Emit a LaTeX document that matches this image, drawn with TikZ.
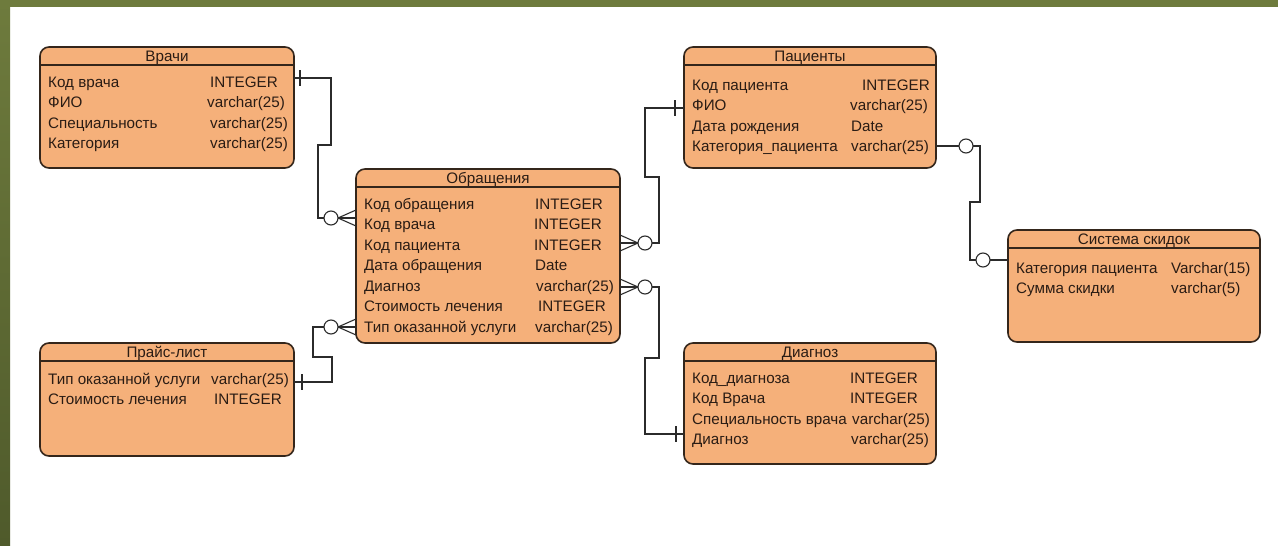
\documentclass[tikz,border=0pt]{standalone}
\usepackage{fontspec}
\setmainfont{Liberation Sans}
\usepackage{xcolor}

\definecolor{entfill}{HTML}{F5B07A}
\definecolor{entline}{HTML}{34261B}
\definecolor{enttext}{HTML}{2A1C14}
\definecolor{linkcol}{HTML}{2B2B2B}
\definecolor{olivetop}{HTML}{6E7B3D}
\definecolor{olivebot}{HTML}{4F5A2B}

\tikzset{
    tbl/.style={draw=entline, fill=entfill, line width=1.6pt, rounded corners=9pt,
        outer sep=0pt, inner sep=0pt, anchor=north west},
    hdr/.style={text=enttext, font=\fontsize{15.2}{17}\selectfont, inner sep=0pt,
        text height=10.5pt, text depth=0pt},
    fld/.style={hdr, anchor=west},
    sepline/.style={draw=entline, line width=1.3pt},
    conn/.style={draw=linkcol, line width=1.1pt},
    manyzero/.pic={
        \draw[conn] (-18,0) -- (0,-8) (-18,0) -- (0,8);
        \draw[conn, fill=white] (-25,0) circle[radius=7pt];
    },
    onebar/.pic={\draw[conn, line width=2pt] (0,-8) -- (0,8);},
    ringmark/.pic={\draw[conn, fill=white] (0,0) circle[radius=7pt];},
}

\begin{document}
\begin{tikzpicture}[x=1pt, y=-1pt]

    % frame
    \useasboundingbox (0,0) rectangle (1278,546);
    \fill[white] (0,0) rectangle (1278,546);
    \fill[olivetop] (0,0) rectangle (1278,7);
    \shade[top color=olivetop, bottom color=olivebot] (0,0) rectangle (10,546);

    % Врачи
    \node[tbl, minimum width=254pt, minimum height=121pt] (vrachi) at (40,47) {};
    \node[hdr] (vrachiT) at (167,56) {Врачи};
    \draw[sepline] (vrachi.west |- 0,65) -- (vrachi.east |- 0,65);
    \node[fld] (vr1) at (48,82) {Код врача};
    \node[fld] (vr1t) at (210,82) {INTEGER};
    \node[fld] (vr2) at (48,102) {ФИО};
    \node[fld] (vr2t) at (207,102) {varchar(25)};
    \node[fld] (vr3) at (48,123) {Специальность};
    \node[fld] (vr3t) at (210,123) {varchar(25)};
    \node[fld] (vr4) at (48,143) {Категория};
    \node[fld] (vr4t) at (210,143) {varchar(25)};

    % Обращения
    \node[tbl, minimum width=264pt, minimum height=174pt] (obr) at (356,169) {};
    \node[hdr] (obrT) at (488,178) {Обращения};
    \draw[sepline] (obr.west |- 0,187) -- (obr.east |- 0,187);
    \node[fld] (ob1) at (364,204) {Код обращения};
    \node[fld] (ob1t) at (535,204) {INTEGER};
    \node[fld] (ob2) at (364,224) {Код врача};
    \node[fld] (ob2t) at (534,224) {INTEGER};
    \node[fld] (ob3) at (364,245) {Код пациента};
    \node[fld] (ob3t) at (534,245) {INTEGER};
    \node[fld] (ob4) at (364,265) {Дата обращения};
    \node[fld] (ob4t) at (535,265) {Date};
    \node[fld] (ob5) at (364,286) {Диагноз};
    \node[fld] (ob5t) at (536,286) {varchar(25)};
    \node[fld] (ob6) at (364,306) {Стоимость лечения};
    \node[fld] (ob6t) at (538,306) {INTEGER};
    \node[fld] (ob7) at (364,327) {Тип оказанной услуги};
    \node[fld] (ob7t) at (535,327) {varchar(25)};

    % Пациенты
    \node[tbl, minimum width=252pt, minimum height=121pt] (pac) at (684,47) {};
    \node[hdr] (pacT) at (810,56) {Пациенты};
    \draw[sepline] (pac.west |- 0,65) -- (pac.east |- 0,65);
    \node[fld] (pa1) at (692,85) {Код пациента};
    \node[fld] (pa1t) at (862,85) {INTEGER};
    \node[fld] (pa2) at (692,105) {ФИО};
    \node[fld] (pa2t) at (850,105) {varchar(25)};
    \node[fld] (pa3) at (692,126) {Дата рождения};
    \node[fld] (pa3t) at (851,126) {Date};
    \node[fld] (pa4) at (692,146) {Категория\_пациента};
    \node[fld] (pa4t) at (851,146) {varchar(25)};

    % Система скидок
    \node[tbl, minimum width=252pt, minimum height=112pt] (sys) at (1008,230) {};
    \node[hdr] (sysT) at (1134,239) {Система скидок};
    \draw[sepline] (sys.west |- 0,248) -- (sys.east |- 0,248);
    \node[fld] (sy1) at (1016,268) {Категория пациента};
    \node[fld] (sy1t) at (1171,268) {Varchar(15)};
    \node[fld] (sy2) at (1016,288) {Сумма скидки};
    \node[fld] (sy2t) at (1171,288) {varchar(5)};

    % Прайс-лист
    \node[tbl, minimum width=254pt, minimum height=113pt] (price) at (40,343) {};
    \node[hdr] (priceT) at (167,352) {Прайс-лист};
    \draw[sepline] (price.west |- 0,361) -- (price.east |- 0,361);
    \node[fld] (pr1) at (48,379) {Тип оказанной услуги};
    \node[fld] (pr1t) at (211,379) {varchar(25)};
    \node[fld] (pr2) at (48,399) {Стоимость лечения};
    \node[fld] (pr2t) at (214,399) {INTEGER};

    % Диагноз
    \node[tbl, minimum width=252pt, minimum height=121pt] (diag) at (684,343) {};
    \node[hdr] (diagT) at (810,352) {Диагноз};
    \draw[sepline] (diag.west |- 0,361) -- (diag.east |- 0,361);
    \node[fld] (di1) at (692,378) {Код\_диагноза};
    \node[fld] (di1t) at (850,378) {INTEGER};
    \node[fld] (di2) at (692,398) {Код Врача};
    \node[fld] (di2t) at (850,398) {INTEGER};
    \node[fld] (di3) at (692,419) {Специальность врача};
    \node[fld] (di3t) at (852,419) {varchar(25)};
    \node[fld] (di4) at (692,439) {Диагноз};
    \node[fld] (di4t) at (851,439) {varchar(25)};

    % links
    \draw[conn] (vrachi.east |- 0,78) -| (331,145) -| (318,218) -- (obr.west |- 0,218);
    \pic at (300,78) {onebar};
    \pic at (obr.west |- 0,218) {manyzero};

    \draw[conn] (price.east |- 0,382) -| (332,357) -| (313,327) -- (obr.west |- 0,327);
    \pic at (302,382) {onebar};
    \pic at (obr.west |- 0,327) {manyzero};

    \draw[conn] (obr.east |- 0,243) -| (659,177) -| (645,108) -- (pac.west |- 0,108);
    \pic[rotate=180] at (obr.east |- 0,243) {manyzero};
    \pic at (675,108) {onebar};

    \draw[conn] (obr.east |- 0,287) -| (659,358) -| (645,434) -- (diag.west |- 0,434);
    \pic[rotate=180] at (obr.east |- 0,287) {manyzero};
    \pic at (676,434) {onebar};

    \draw[conn] (pac.east |- 0,146) -| (980,202) -| (970,260) -- (sys.west |- 0,260);
    \pic at (966,146) {ringmark};
    \pic at (983,260) {ringmark};

\end{tikzpicture}
\end{document}
